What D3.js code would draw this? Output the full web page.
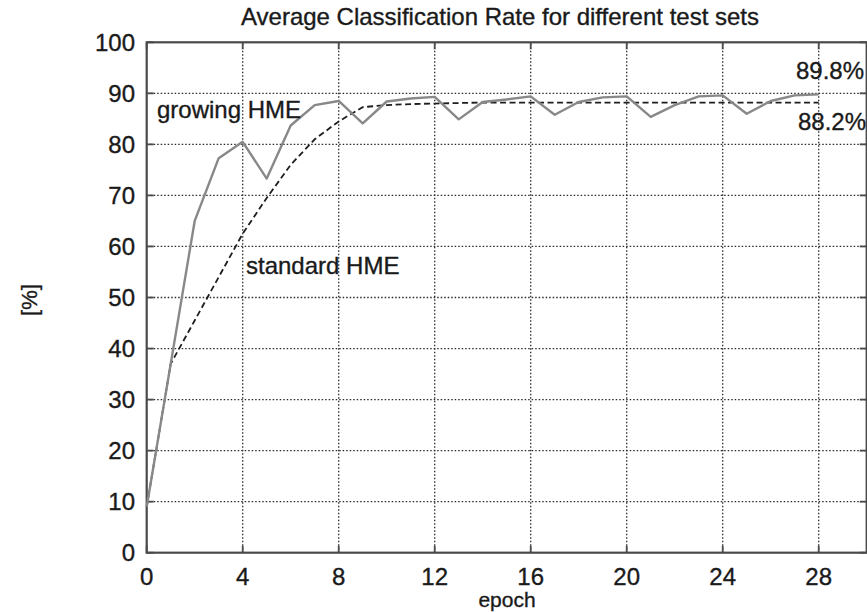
<!DOCTYPE html>
<html>
<head>
<meta charset="utf-8">
<script src="https://cdn.jsdelivr.net/npm/d3@7"></script>
<style>
  html, body { margin: 0; padding: 0; background: #fff; }
  svg { display: block; font-family: "Liberation Sans", Arial, Helvetica, sans-serif; }
  text { stroke: #1a1a1a; stroke-width: 0.35px; }
</style>
</head>
<body>
<svg id="chart" width="867" height="612"></svg>
<script>
// Training epochs
const epochs = [0, 1, 2, 3, 4, 5, 6, 7, 8, 9, 10, 11, 12, 13, 14,
                15, 16, 17, 18, 19, 20, 21, 22, 23, 24, 25, 26, 27, 28];

// Average classification rate [%] of the growing HME
const growingHME = [9, 37, 65, 77.3, 80.5, 73.3, 83.7, 87.7, 88.5, 84.1,
                    88.4, 89.0, 89.3, 84.9, 88.3, 88.8, 89.4, 85.8, 88.3, 89.2,
                    89.4, 85.4, 87.7, 89.4, 89.6, 86.0, 88.5, 89.6, 89.8];

// Average classification rate [%] of the standard HME
const standardHME = [9, 37, 45.5, 54, 62.5, 69.5, 76, 81, 84.5, 87.3,
                     87.7, 87.9, 88.0, 88.1, 88.2, 88.2, 88.2, 88.2, 88.2, 88.2,
                     88.2, 88.2, 88.2, 88.2, 88.2, 88.2, 88.2, 88.2, 88.2];

const xTicks = [0, 4, 8, 12, 16, 20, 24, 28];
const yTicks = [0, 10, 20, 30, 40, 50, 60, 70, 80, 90, 100];

const title = "Average Classification Rate for different test sets";
const xLabel = "epoch";
const yLabel = "[%]";
const growingLabel = "growing HME";
const standardLabel = "standard HME";
const growingFinal = "89.8%";
const standardFinal = "88.2%";

const svg = d3.select("#chart");

const x = d3.scaleLinear().domain([0, 30]).range([146.7, 866.7]);
const y = d3.scaleLinear().domain([0, 100]).range([552.7, 42.3]);

const ink = "#1a1a1a";
const frame = "#4a4a4a";

// dotted grid
const grid = svg.append("g")
  .attr("stroke", "#2a2a2a")
  .attr("stroke-width", 1.3)
  .attr("stroke-dasharray", "1.5,2");
grid.selectAll(".hg").data(yTicks.filter(v => v > 0 && v < 100)).join("line")
  .attr("x1", x(0)).attr("x2", x(30))
  .attr("y1", d => y(d)).attr("y2", d => y(d));
grid.selectAll(".vg").data(xTicks.filter(v => v > 0)).join("line")
  .attr("x1", d => x(d)).attr("x2", d => x(d))
  .attr("y1", y(0)).attr("y2", y(100));

// frame
svg.append("rect")
  .attr("x", x(0)).attr("y", y(100))
  .attr("width", x(30) - x(0)).attr("height", y(0) - y(100))
  .attr("fill", "none").attr("stroke", frame).attr("stroke-width", 2.2);

// inward ticks on all four sides
const tickLen = 7;
const ticks = svg.append("g").attr("stroke", frame).attr("stroke-width", 1.8);
ticks.selectAll(".tl").data(yTicks).join("line")
  .attr("x1", x(0)).attr("x2", x(0) + tickLen)
  .attr("y1", d => y(d)).attr("y2", d => y(d));
ticks.selectAll(".tr").data(yTicks).join("line")
  .attr("x1", x(30)).attr("x2", x(30) - tickLen)
  .attr("y1", d => y(d)).attr("y2", d => y(d));
ticks.selectAll(".tb").data(xTicks).join("line")
  .attr("x1", d => x(d)).attr("x2", d => x(d))
  .attr("y1", y(0)).attr("y2", y(0) - tickLen);
ticks.selectAll(".tt").data(xTicks).join("line")
  .attr("x1", d => x(d)).attr("x2", d => x(d))
  .attr("y1", y(100)).attr("y2", y(100) + tickLen);

// axis tick labels
svg.append("g").selectAll("text").data(yTicks).join("text")
  .attr("x", 135).attr("y", d => y(d))
  .attr("dy", "0.36em")
  .attr("text-anchor", "end")
  .attr("font-size", 24).attr("fill", ink)
  .text(d => d);
svg.append("g").selectAll("text").data(xTicks).join("text")
  .attr("x", d => x(d)).attr("y", 584.5)
  .attr("text-anchor", "middle")
  .attr("font-size", 24).attr("fill", ink)
  .text(d => d);

// series
const pts = (vals) => epochs.map((e, i) => [e, vals[i]]);
const line = d3.line().x(d => x(d[0])).y(d => y(d[1]));

svg.append("path")
  .attr("d", line(pts(standardHME)))
  .attr("fill", "none").attr("stroke", "#1e1e1e")
  .attr("stroke-width", 1.8).attr("stroke-dasharray", "6,3.5");

svg.append("path")
  .attr("d", line(pts(growingHME)))
  .attr("fill", "none").attr("stroke", "#888")
  .attr("stroke-width", 2.4).attr("stroke-linejoin", "round");

// annotations
svg.append("text").attr("x", 157).attr("y", 117.5)
  .attr("font-size", 24).attr("fill", ink).text(growingLabel);
svg.append("text").attr("x", 246).attr("y", 274)
  .attr("font-size", 24).attr("fill", ink).text(standardLabel);
svg.append("text").attr("x", 864).attr("y", 78.5)
  .attr("text-anchor", "end")
  .attr("font-size", 24).attr("fill", ink).text(growingFinal);
svg.append("text").attr("x", 798).attr("y", 130)
  .attr("font-size", 24).attr("fill", ink).text(standardFinal);

// title and axis labels
svg.append("text").attr("x", 500).attr("y", 25)
  .attr("text-anchor", "middle")
  .attr("font-size", 24).attr("fill", ink).text(title);
svg.append("text").attr("x", 507).attr("y", 607)
  .attr("text-anchor", "middle")
  .attr("font-size", 21).attr("fill", ink).text(xLabel);
svg.append("text")
  .attr("transform", "translate(37,300) rotate(-90)")
  .attr("text-anchor", "middle")
  .attr("font-size", 22).attr("fill", ink).text(yLabel);
</script>
</body>
</html>
